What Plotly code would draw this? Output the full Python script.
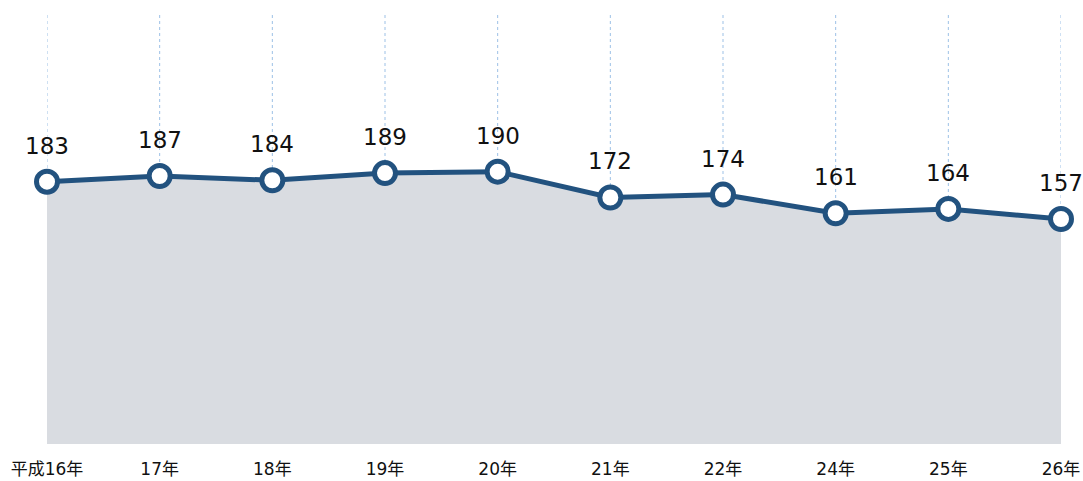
import plotly.graph_objects as go

# 年度ラベルと値
years = ["平成16年", "17年", "18年", "19年", "20年", "21年", "22年", "24年", "25年", "26年"]
values = [183, 187, 184, 189, 190, 172, 174, 161, 164, 157]

LINE = "#22527f"
FONT = "DejaVu Sans, Verdana, Noto Sans CJK JP, sans-serif"

fig = go.Figure()
fig.add_trace(go.Scatter(
    x=years,
    y=values,
    mode="lines+markers",
    fill="tozeroy",
    fillcolor="#d9dce1",
    line=dict(color=LINE, width=5),
    marker=dict(size=21, color="white", line=dict(color=LINE, width=5)),
    cliponaxis=False,
    showlegend=False,
    hoverinfo="skip",
))

# dotted vertical guides
for yr in years:
    fig.add_shape(
        type="line", xref="x", yref="paper", x0=yr, x1=yr, y0=0, y1=1,
        line=dict(color="#9dc1e6", width=1, dash="dot"), layer="below",
    )

# value labels above each marker
for yr, v in zip(years, values):
    fig.add_annotation(
        x=yr, y=v, text=str(v), showarrow=False, yshift=36,
        font=dict(size=23, color="#111", family=FONT),
    )

fig.update_layout(
    width=1083,
    height=481,
    margin=dict(l=47, r=22, t=14, b=37),
    plot_bgcolor="white",
    paper_bgcolor="white",
    font=dict(family=FONT, size=17, color="#111"),
)
fig.update_xaxes(
    type="category",
    range=[0, len(years) - 1],
    automargin=False,
    showgrid=False,
    zeroline=False,
    showline=False,
    ticks="outside",
    ticklen=10,
    tickcolor="rgba(0,0,0,0)",
    tickfont=dict(size=17),
    fixedrange=True,
)
fig.update_yaxes(
    range=[0, 300],
    automargin=False,
    showgrid=False,
    zeroline=False,
    showticklabels=False,
    fixedrange=True,
)

fig.write_html(
    "out.html",
    config={"displayModeBar": False},
    post_script="document.body.style.margin='0';",
)
